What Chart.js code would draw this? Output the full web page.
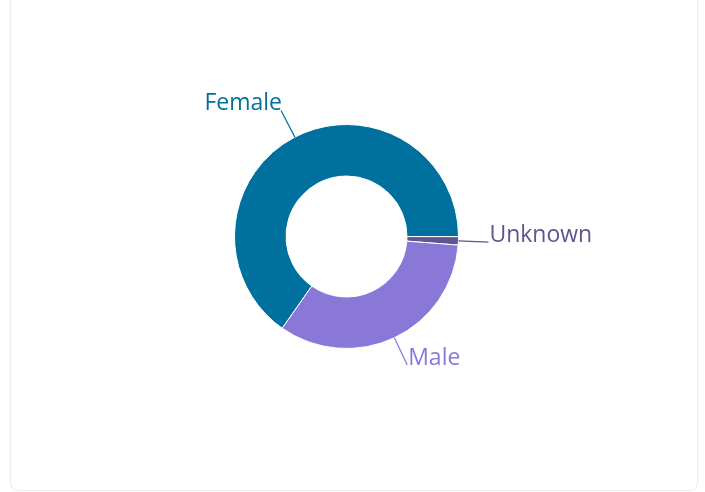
<!DOCTYPE html>
<html lang="en">
<head>
    <meta charset="UTF-8">
    <title>Gender</title>
    <style>
        body {
            margin: 0;
            background: #ffffff;
            font-family: 'Open Sans', sans-serif;
        }
        #card {
            position: absolute;
            left: 10px;
            top: -12px;
            width: 686px;
            height: 501px;
            border: 1px solid #ececec;
            border-radius: 8px;
            box-shadow: 0 0 2px rgba(0, 0, 0, 0.04);
        }
        #wrap {
            position: absolute;
            left: 0;
            top: 0;
            width: 705px;
            height: 492px;
        }
    </style>
</head>
<body>
    <div id="card"></div>
    <div id="wrap"><canvas id="myChart"></canvas></div>

    <script src="https://cdn.jsdelivr.net/npm/chart.js"></script>
    <script>
        const categories = ['Female', 'Unknown', 'Male'];
        const shares = [65.3, 1.2, 33.5];
        const sliceColors = ['#00709e', '#5d5690', '#8a78d8'];

        // draws the outside labels with a short leader line, like the original
        const outsideLabels = {
            id: 'outsideLabels',
            afterDatasetsDraw(chart) {
                const ctx = chart.ctx;
                const arcs = chart.getDatasetMeta(0).data;
                ctx.save();
                ctx.font = '23px "Open Sans", sans-serif';
                ctx.textBaseline = 'alphabetic';
                arcs.forEach((arc, i) => {
                    const p = arc.getProps(['x', 'y', 'startAngle', 'endAngle', 'outerRadius'], true);
                    const mid = (p.startAngle + p.endAngle) / 2;
                    const cos = Math.cos(mid), sin = Math.sin(mid);
                    const x1 = p.x + p.outerRadius * cos, y1 = p.y + p.outerRadius * sin;
                    const x2 = p.x + (p.outerRadius + 30) * cos, y2 = p.y + (p.outerRadius + 30) * sin;
                    ctx.strokeStyle = sliceColors[i];
                    ctx.lineWidth = 1.2;
                    ctx.beginPath();
                    ctx.moveTo(x1, y1);
                    ctx.lineTo(x2, y2);
                    ctx.stroke();
                    ctx.fillStyle = sliceColors[i];
                    if (cos >= 0) {
                        ctx.textAlign = 'left';
                        ctx.fillText(categories[i], x2 + 1, y2);
                    } else {
                        ctx.textAlign = 'right';
                        ctx.fillText(categories[i], x2 + 1, y2);
                    }
                });
                ctx.restore();
            }
        };

        document.addEventListener('DOMContentLoaded', function () {
            const ctx = document.getElementById('myChart').getContext('2d');
            new Chart(ctx, {
                type: 'doughnut',
                data: {
                    labels: categories,
                    datasets: [{
                        data: shares,
                        backgroundColor: sliceColors,
                        borderColor: '#ffffff',
                        borderWidth: 1,
                        hoverOffset: 0
                    }]
                },
                options: {
                    responsive: true,
                    maintainAspectRatio: false,
                    animation: false,
                    rotation: 215,
                    cutout: '54%',
                    layout: {
                        padding: { left: 234, right: 246, top: 124, bottom: 143 }
                    },
                    plugins: {
                        legend: { display: false },
                        tooltip: { enabled: false }
                    }
                },
                plugins: [outsideLabels]
            });
        });
    </script>
</body>
</html>
